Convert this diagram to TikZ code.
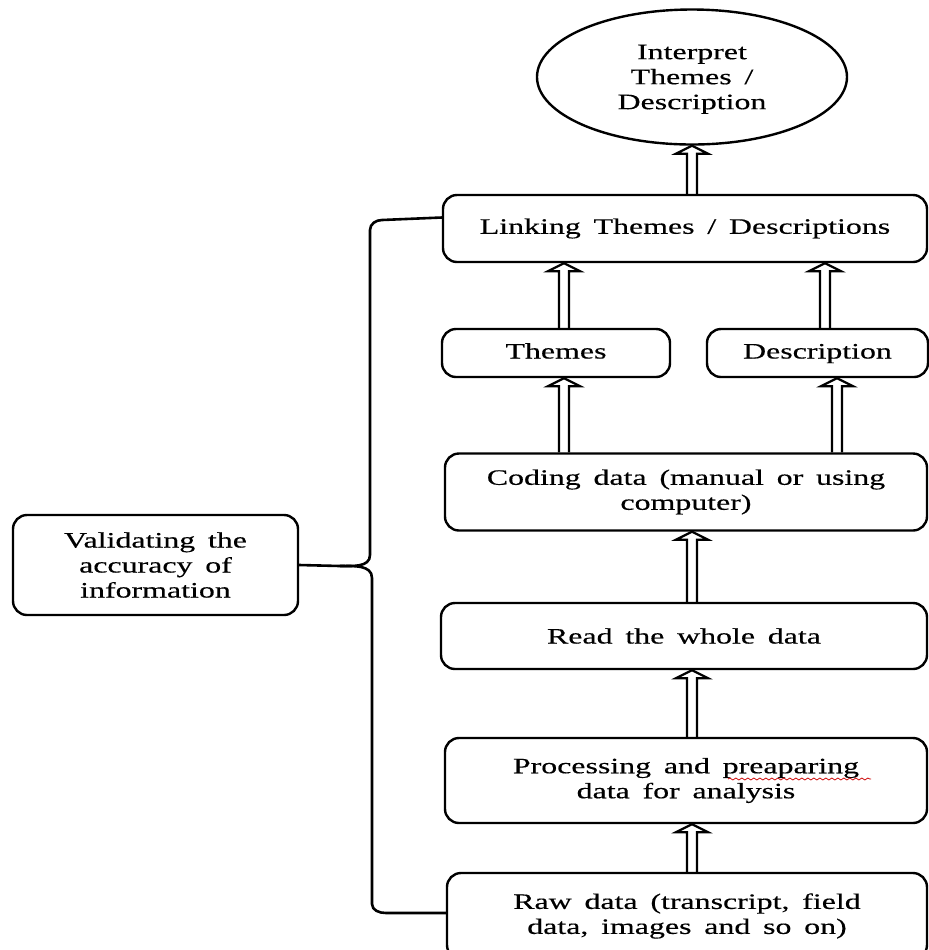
\documentclass[tikz,border=0pt]{standalone}
\usepackage{fontspec}
\setmainfont{Liberation Serif}[FakeStretch=1.45,WordSpace=1.6,FakeBold=0.4]
\usetikzlibrary{calc, shapes.geometric, decorations.pathmorphing}

\begin{document}
\begin{tikzpicture}[x=0.5pt,y=-0.5pt,
    every node/.style={font=\fontsize{11}{12.5}\selectfont,align=center,inner sep=0pt},
    stepbox/.style={draw,line width=1.2pt,rounded corners=7pt},
    hollow/.style={draw,line width=1.1pt,line join=miter,
        to path={let \p1=(\tikztostart),\p2=(\tikztotarget) in
        (\x1-2.5pt,\y1) -- (\x1-2.5pt,\y2-4pt) -- (\x1-8pt,\y2-4pt) -- (\x1,\y2)
        -- (\x1+8pt,\y2-4pt) -- (\x1+2.5pt,\y2-4pt) -- (\x1+2.5pt,\y1)}},
    brace/.style={draw,line width=1.3pt}]
    \useasboundingbox (0,0) rectangle (929,950);

    % boxes
    \node[ellipse,draw,line width=1.2pt,minimum width=155pt,minimum height=67.5pt,name=interp]
        at (692,77) {\\[-3pt]Interpret\\Themes /\\Description};
    \node[stepbox,minimum width=242pt,minimum height=33.5pt,name=linking]
        at (685,228.5) {Linking Themes / Descriptions};
    \node[stepbox,minimum width=114pt,minimum height=24pt,text height=8pt,text depth=2.5pt,name=themes]
        at (556,353) {Themes};
    \node[stepbox,minimum width=110.5pt,minimum height=24pt,text height=8pt,text depth=2.5pt,name=descr]
        at (817.5,353) {Description};
    \node[stepbox,minimum width=241pt,minimum height=38.5pt,name=coding]
        at (686,492) {Coding data (manual or using\\computer)};
    \node[stepbox,minimum width=243pt,minimum height=33pt,name=read]
        at (684,636) {Read the whole data};
    \node[stepbox,minimum width=241pt,minimum height=42.5pt,name=proc]
        at (686,780.5) {Processing and preaparing\\data for analysis};
    \node[stepbox,minimum width=240pt,minimum height=43pt,name=raw]
        at (687,916) {Raw data (transcript, field\\data, images and so on)};
    \node[stepbox,minimum width=142.5pt,minimum height=50pt,name=valid]
        at (155.5,565) {Validating the\\accuracy of\\information};

    % spell check line
    \draw[red!80!black,line width=0.4pt,decorate,
        decoration={snake,amplitude=0.5pt,segment length=3pt}] (728,779) -- (871,779);

    % arrows
    \draw[hollow] (interp.south |- linking.north) to (interp.south);
    \draw[hollow] ([xshift=4pt]themes.north) to ([xshift=4pt]themes.north |- linking.south);
    \draw[hollow] ([xshift=3.75pt]descr.north) to ([xshift=3.75pt]descr.north |- linking.south);
    \draw[hollow] ([xshift=4pt]themes.south |- coding.north) to ([xshift=4pt]themes.south);
    \draw[hollow] ([xshift=9.75pt]descr.south |- coding.north) to ([xshift=9.75pt]descr.south);
    \draw[hollow] (interp.south |- read.north) to (interp.south |- coding.south);
    \draw[hollow] (interp.south |- proc.north) to (interp.south |- read.south);
    \draw[hollow] (interp.south |- raw.north) to (interp.south |- proc.south);

    % brace
    \draw[brace] (valid.east) -- (340,566) to[out=0,in=-90] (370,555) -- (370,230)
        to[out=90,in=180] (382,220) -- ([yshift=5.5pt]linking.west);
    \draw[brace] (340,566) to[out=0,in=90] (372,578) -- (372,904)
        to[out=-90,in=180] (386,913) -- ([yshift=1.5pt]raw.west);

\end{tikzpicture}
\end{document}
